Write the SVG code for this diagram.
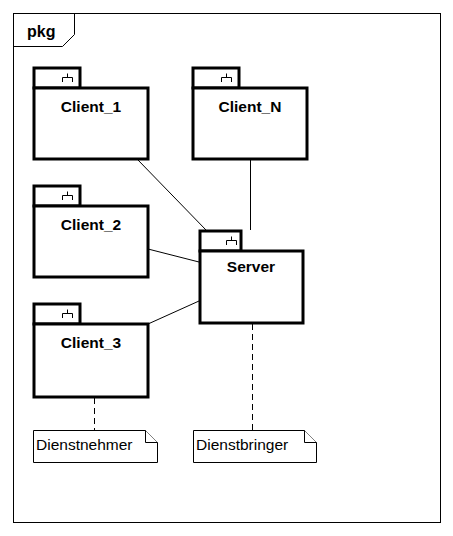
<svg xmlns="http://www.w3.org/2000/svg" width="453" height="536" viewBox="0 0 453 536">
<style>
.frame{fill:none;stroke:#000;stroke-width:1}
.pkg{fill:#fff;stroke:#000;stroke-width:3}
.icon{fill:none;stroke:#000;stroke-width:1}
.lbl{font-family:"Liberation Sans",Arial,sans-serif;font-size:15.5px;font-weight:bold;text-anchor:middle}
.note{fill:#fff;stroke:#000;stroke-width:1}
.ntxt{font-family:"Liberation Sans",Arial,sans-serif;font-size:15.5px}
.con{stroke:#000;stroke-width:1;fill:none}
.dash{stroke:#000;stroke-width:1;stroke-dasharray:6,4;fill:none}
</style>
<rect width="453" height="536" fill="#fff"/>
<g id="frame">
<rect class="frame" x="13.5" y="13.5" width="427" height="509"/>
<path class="frame" d="M13.5 46.5 H62.5 L74.5 34.5 V13.5"/>
<text x="27" y="37" style="font-family:'Liberation Sans',Arial,sans-serif;font-size:16px;font-weight:bold">pkg</text>
</g>
<g id="connectors">
<line class="con" x1="138" y1="160" x2="206" y2="230"/>
<line class="con" x1="250.5" y1="160" x2="250.5" y2="230"/>
<line class="con" x1="148" y1="249" x2="199" y2="262"/>
<line class="con" x1="148" y1="324" x2="199" y2="301"/>
<line class="dash" x1="94.5" y1="398" x2="94.5" y2="430"/>
<line class="dash" x1="252.5" y1="324" x2="252.5" y2="430"/>
</g>
<g id="Client_1">
<rect class="pkg" x="34" y="68" width="46" height="20"/>
<rect class="pkg" x="34" y="88" width="114" height="71"/>
<path class="icon" d="M62.5 82 V77.5 H72.5 V82 M67.5 77.5 V73.5"/>
<text class="lbl" x="91" y="112">Client_1</text>
</g>
<g id="Client_N">
<rect class="pkg" x="193" y="68" width="46" height="20"/>
<rect class="pkg" x="193" y="88" width="114" height="71"/>
<path class="icon" d="M221.5 82 V77.5 H231.5 V82 M226.5 77.5 V73.5"/>
<text class="lbl" x="250" y="112">Client_N</text>
</g>
<g id="Client_2">
<rect class="pkg" x="34" y="186" width="46" height="20"/>
<rect class="pkg" x="34" y="206" width="114" height="71"/>
<path class="icon" d="M62.5 200 V195.5 H72.5 V200 M67.5 195.5 V191.5"/>
<text class="lbl" x="91" y="230">Client_2</text>
</g>
<g id="Client_3">
<rect class="pkg" x="34" y="304" width="46" height="20"/>
<rect class="pkg" x="34" y="324" width="114" height="73"/>
<path class="icon" d="M62.5 318 V313.5 H72.5 V318 M67.5 313.5 V309.5"/>
<text class="lbl" x="91" y="348">Client_3</text>
</g>
<g id="Server">
<rect class="pkg" x="200" y="231" width="41" height="20"/>
<rect class="pkg" x="200" y="251" width="103" height="72"/>
<path class="icon" d="M226.5 245 V240.5 H236.5 V245 M231.5 240.5 V236.5"/>
<text class="lbl" x="251" y="272">Server</text>
</g>
<g id="Dienstnehmer">
<path class="note" d="M33.5 430.5 H145.5 L157.5 442.5 V462.5 H33.5 Z"/>
<path class="note" d="M145.5 430.5 V442.5 H157.5"/>
<text class="ntxt" x="36" y="450">Dienstnehmer</text>
</g>
<g id="Dienstbringer">
<path class="note" d="M193.5 430.5 H304.5 L316.5 442.5 V462.5 H193.5 Z"/>
<path class="note" d="M304.5 430.5 V442.5 H316.5"/>
<text class="ntxt" x="196" y="450">Dienstbringer</text>
</g>
</svg>
